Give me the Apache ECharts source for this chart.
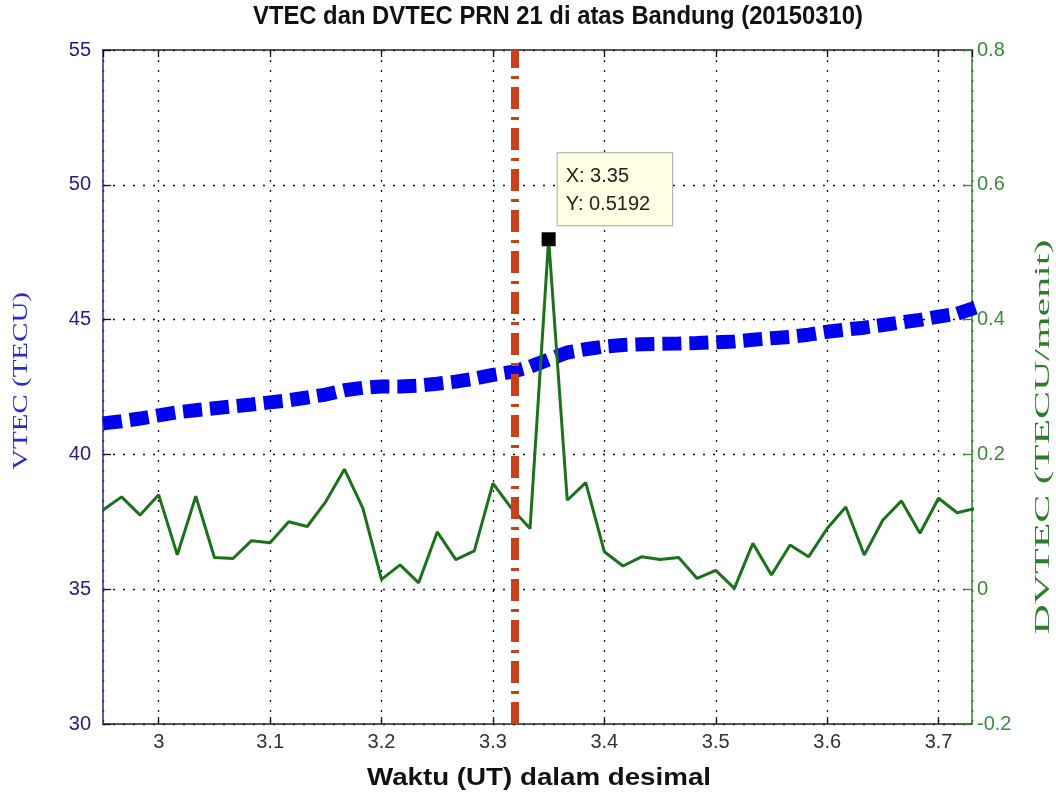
<!DOCTYPE html>
<html><head><meta charset="utf-8">
<script src="https://cdn.jsdelivr.net/npm/echarts@6/dist/echarts.min.js"></script>
<style>html,body{margin:0;padding:0;background:#fff}#c{width:1056px;height:797px}</style>
</head><body><div id="c"></div>
<script>
// ---- data ----
const times = [2.95, 2.9667, 2.9833, 3.0, 3.0167, 3.0333, 3.05, 3.0667, 3.0833, 3.1,
  3.1167, 3.1333, 3.15, 3.1667, 3.1833, 3.2, 3.2167, 3.2333, 3.25, 3.2667,
  3.2833, 3.3, 3.3167, 3.3333, 3.35, 3.3667, 3.3833, 3.4, 3.4167, 3.4333,
  3.45, 3.4667, 3.4833, 3.5, 3.5167, 3.5333, 3.55, 3.5667, 3.5833, 3.6,
  3.6167, 3.6333, 3.65, 3.6667, 3.6833, 3.7, 3.7167, 3.7333];
const vtec = [41.15, 41.23, 41.33, 41.45, 41.56, 41.64, 41.71, 41.78, 41.85, 41.93,
  42.01, 42.11, 42.22, 42.38, 42.47, 42.52, 42.52, 42.55, 42.62, 42.70,
  42.81, 42.95, 43.06, 43.25, 43.52, 43.78, 43.90, 44.00, 44.06, 44.09,
  44.10, 44.11, 44.13, 44.16, 44.19, 44.25, 44.31, 44.36, 44.44, 44.55,
  44.63, 44.70, 44.80, 44.90, 44.99, 45.11, 45.22, 45.45];
const dvtec = [0.1175, 0.137, 0.110, 0.140, 0.051, 0.138, 0.047, 0.0455, 0.072, 0.069,
  0.100, 0.093, 0.130, 0.178, 0.120, 0.0145, 0.036, 0.0095, 0.085, 0.044,
  0.057, 0.157, 0.120, 0.090, 0.5192, 0.132, 0.158, 0.0556, 0.0344, 0.048,
  0.044, 0.047, 0.016, 0.028, 0.0013, 0.068, 0.021, 0.0656, 0.048, 0.090,
  0.122, 0.0507, 0.1027, 0.131, 0.083, 0.135, 0.1135, 0.12];
const eventTime = 3.3167;
const xRange = [2.95, 3.73];
const vtecRange = [30, 55];
const vtecStep = 5;
const dvtecRange = [-0.2, 0.8];
const dvtecStep = 0.2;
const titleText = 'VTEC dan DVTEC PRN 21 di atas Bandung (20150310)';
const xName = 'Waktu (UT) dalam desimal';
const yLeftName = 'VTEC (TECU)';
const yRightName = 'DVTEC (TECU/menit)';

// ---- text fitting helper (stretch a single text to a target length) ----
const mctx = document.createElement('canvas').getContext('2d');
function fitText(text, font, target) {
  mctx.font = font;
  return target / mctx.measureText(text).width;
}

// ---- chart ----
const chart = echarts.init(document.getElementById('c'), null, {renderer: 'canvas'});
let peak = 0;
dvtec.forEach((v, i) => { if (v > dvtec[peak]) peak = i; });

const dotted = {show: true, lineStyle: {color: '#111', width: 1.3, type: [2, 8]}};
const labelFont = {fontFamily: 'Liberation Sans, Arial, sans-serif', fontSize: 20};

const titleFont = 'bold 25px "Liberation Sans", Arial, sans-serif';
const xNameFont = 'bold 24px "Liberation Sans", Arial, sans-serif';
const yNameFont = '20px "Liberation Serif", "Times New Roman", serif';

const option = {
  backgroundColor: '#fff',
  animation: false,
  grid: {left: 103, right: 84, top: 50, bottom: 73, containLabel: false},
  xAxis: [
    {type: 'value', position: 'bottom', min: xRange[0], max: xRange[1],
     splitNumber: 8, minInterval: 0.1, maxInterval: 0.1,
     axisLine: {onZero: false, lineStyle: {color: '#222', width: 1.5}},
     axisTick: {inside: true, length: 7, lineStyle: {color: '#111', width: 1.3}},
     axisLabel: Object.assign({color: '#333', margin: 8, showMinLabel: false, showMaxLabel: false}, labelFont),
     splitLine: dotted},
    {type: 'value', position: 'top', min: xRange[0], max: xRange[1],
     splitNumber: 8, minInterval: 0.1, maxInterval: 0.1,
     axisLine: {onZero: false, lineStyle: {color: '#222', width: 1.5}},
     axisTick: {inside: true, length: 7, lineStyle: {color: '#111', width: 1.3}},
     axisLabel: {show: false}, splitLine: {show: false}}
  ],
  yAxis: [
    {type: 'value', position: 'left', min: vtecRange[0], max: vtecRange[1], interval: vtecStep,
     axisLine: {show: true, onZero: false, lineStyle: {color: '#2a2a9a', width: 1.5}},
     axisTick: {show: true, inside: true, length: 8, lineStyle: {color: '#111', width: 1.3}},
     axisLabel: Object.assign({color: '#1e1e84', margin: 12}, labelFont),
     splitLine: dotted},
    {type: 'value', position: 'right', min: dvtecRange[0], max: dvtecRange[1], interval: dvtecStep,
     axisLine: {show: true, onZero: false, lineStyle: {color: '#2f8a2f', width: 1.5}},
     axisTick: {show: true, inside: true, length: 9, lineStyle: {color: '#2f8a2f', width: 1.3}},
     axisLabel: Object.assign({color: '#3b8b3b', margin: 5}, labelFont),
     splitLine: {show: false}}
  ],
  series: [
    {name: 'VTEC', type: 'line', xAxisIndex: 0, yAxisIndex: 0, z: 2,
     data: times.map((t, i) => [t, vtec[i]]),
     showSymbol: false, symbol: 'none',
     lineStyle: {color: '#0000f0', width: 14, type: [19, 8], cap: 'butt'},
     markLine: {silent: true, symbol: 'none', animation: false,
       label: {show: false},
       lineStyle: {color: '#c8401c', width: 8, type: [22, 8, 3, 8]},
       data: [{xAxis: eventTime}]}},
    {name: 'DVTEC', type: 'line', xAxisIndex: 0, yAxisIndex: 1, z: 4,
     data: times.map((t, i) => [t, dvtec[i]]),
     showSymbol: false, symbol: 'none',
     lineStyle: {color: '#1c721c', width: 3},
     markPoint: {silent: true, animation: false,
       symbol: 'rect', symbolSize: 14, itemStyle: {color: '#000'},
       label: {show: true, position: [16, -79], align: 'left', verticalAlign: 'top',
         formatter: 'X: ' + times[peak].toFixed(2) + '\nY: ' + dvtec[peak].toFixed(4),
         fontFamily: 'Liberation Sans, Arial, sans-serif', fontSize: 20, color: '#222',
         lineHeight: 28, padding: [9, 22, 7, 8],
         backgroundColor: '#ffffe3', borderColor: '#a8a8a0', borderWidth: 1},
       data: [{coord: [times[peak], dvtec[peak]]}]}}
  ],
  graphic: [
    {type: 'text', x: 558, y: 17, scaleX: fitText(titleText, titleFont, 610),
     style: {text: titleText, fill: '#111', font: titleFont, align: 'center', verticalAlign: 'middle'}},
    {type: 'text', x: 539, y: 778, scaleX: fitText(xName, xNameFont, 344),
     style: {text: xName, fill: '#111', font: xNameFont, align: 'center', verticalAlign: 'middle'}},
    {type: 'text', x: 22, y: 381, rotation: Math.PI / 2, scaleX: fitText(yLeftName, yNameFont, 178),
     style: {text: yLeftName, fill: '#2a2ad8', font: yNameFont, align: 'center', verticalAlign: 'middle'}},
    {type: 'text', x: 1044, y: 437, rotation: Math.PI / 2, scaleX: fitText(yRightName, yNameFont, 395),
     style: {text: yRightName, fill: '#2e7d2e', font: yNameFont, align: 'center', verticalAlign: 'middle'}}
  ]
};
chart.setOption(option);
</script>
</body></html>
